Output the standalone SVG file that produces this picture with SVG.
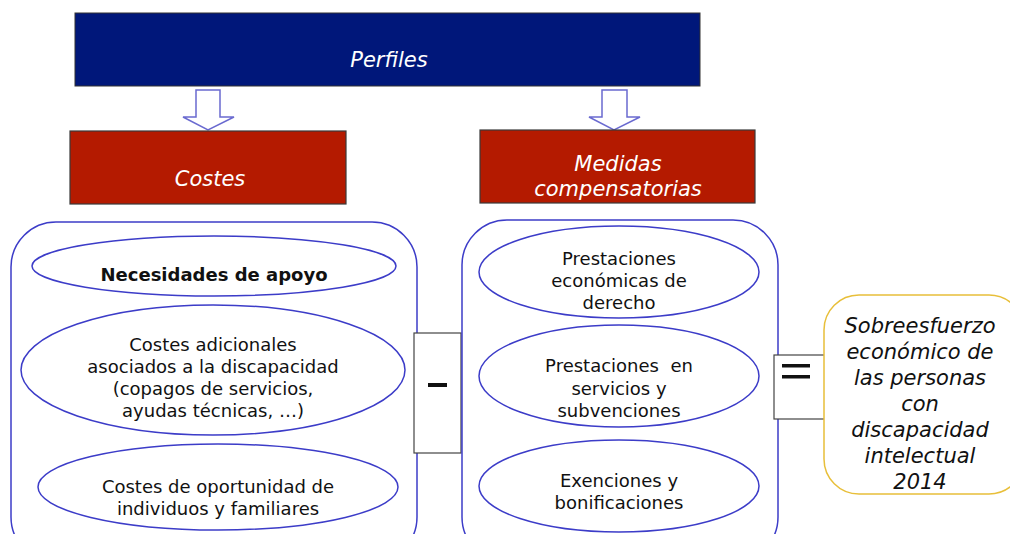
<svg xmlns="http://www.w3.org/2000/svg" width="1010" height="534" viewBox="0 0 1010 534">
<style>
.hdr{font-family:"DejaVu Sans",Verdana,sans-serif;font-style:italic;fill:#fff;font-size:21px;text-anchor:middle}
.red{fill:#b41a00;stroke:#3a3a3a;stroke-width:1.2}
.cont{fill:none;stroke:#3c3cc8;stroke-width:1.5}
.ell{fill:#fff;stroke:#3c3cc8;stroke-width:1.5}
.t{font-family:"DejaVu Sans",Verdana,sans-serif;font-size:18px;fill:#111;text-anchor:middle}
.op{fill:#fff;stroke:#444;stroke-width:1.2}
.arr{fill:#fff;stroke:#6a6ad0;stroke-width:1.5}
.res{font-family:"DejaVu Sans",Verdana,sans-serif;font-style:italic;font-size:21px;fill:#111;text-anchor:middle}
</style>
<rect width="1010" height="534" fill="#fff"/>
<g id="perfiles">
<rect x="75" y="13" width="625" height="73" fill="#00177a" stroke="#333" stroke-width="1"/>
<text class="hdr" x="389" y="67">Perfiles</text>
</g>
<g id="connectors">
<path class="arr" d="M196 90 H220 V117 H234 L208 130 L183 117 H196 Z"/>
<path class="arr" d="M602 90 H627 V117 H640 L614 130 L589 117 H602 Z"/>
</g>
<g id="costes">
<rect class="red" x="70" y="131" width="276" height="73"/>
<text class="hdr" x="210" y="186">Costes</text>
</g>
<g id="medidas">
<rect class="red" x="480" y="130" width="275" height="73"/>
<text class="hdr" x="618" y="171">Medidas</text>
<text class="hdr" x="618" y="196">compensatorias</text>
</g>
<g id="costes-group">
<rect class="cont" x="11" y="222" width="406" height="340" rx="45"/>
<g id="necesidades">
<ellipse class="ell" cx="214" cy="266" rx="182" ry="30"/>
<text class="t" x="214" y="281" font-weight="bold">Necesidades de apoyo</text>
</g>
<g id="adicionales">
<ellipse class="ell" cx="213" cy="370" rx="192" ry="65"/>
<text class="t" x="213" y="351">Costes adicionales</text>
<text class="t" x="213" y="373">asociados a la discapacidad</text>
<text class="t" x="213" y="395">(copagos de servicios,</text>
<text class="t" x="213" y="417">ayudas técnicas, …)</text>
</g>
<g id="oportunidad">
<ellipse class="ell" cx="218" cy="487" rx="180" ry="43"/>
<text class="t" x="218" y="493">Costes de oportunidad de</text>
<text class="t" x="218" y="515">individuos y familiares</text>
</g>
</g>
<g id="minus">
<rect class="op" x="414" y="333" width="47" height="120"/>
<rect x="428" y="383" width="19" height="4" fill="#111"/>
</g>
<g id="medidas-group">
<rect class="cont" x="462" y="220" width="316" height="342" rx="45"/>
<g id="economicas">
<ellipse class="ell" cx="619" cy="272" rx="140" ry="46"/>
<text class="t" x="619" y="265">Prestaciones</text>
<text class="t" x="619" y="287">económicas de</text>
<text class="t" x="619" y="309">derecho</text>
</g>
<g id="servicios">
<ellipse class="ell" cx="619" cy="376" rx="140" ry="51"/>
<text class="t" x="619" y="372">Prestaciones&#160; en</text>
<text class="t" x="619" y="395">servicios y</text>
<text class="t" x="619" y="417">subvenciones</text>
</g>
<g id="exenciones">
<ellipse class="ell" cx="619" cy="486" rx="140" ry="46"/>
<text class="t" x="619" y="487">Exenciones y</text>
<text class="t" x="619" y="509">bonificaciones</text>
</g>
</g>
<g id="equals">
<rect class="op" x="774" y="355" width="51" height="64"/>
<rect x="782" y="364" width="28" height="3.5" fill="#111"/>
<rect x="782" y="375" width="28" height="3.5" fill="#111"/>
</g>
<g id="resultado">
<rect x="824" y="295" width="200" height="199" rx="35" fill="#fff" stroke="#e8bf3a" stroke-width="1.5"/>
<text class="res" x="920" y="333">Sobreesfuerzo</text>
<text class="res" x="920" y="359">económico de</text>
<text class="res" x="920" y="385">las personas</text>
<text class="res" x="920" y="411">con</text>
<text class="res" x="920" y="437">discapacidad</text>
<text class="res" x="920" y="463">intelectual</text>
<text class="res" x="920" y="489">2014</text>
</g>
</svg>
